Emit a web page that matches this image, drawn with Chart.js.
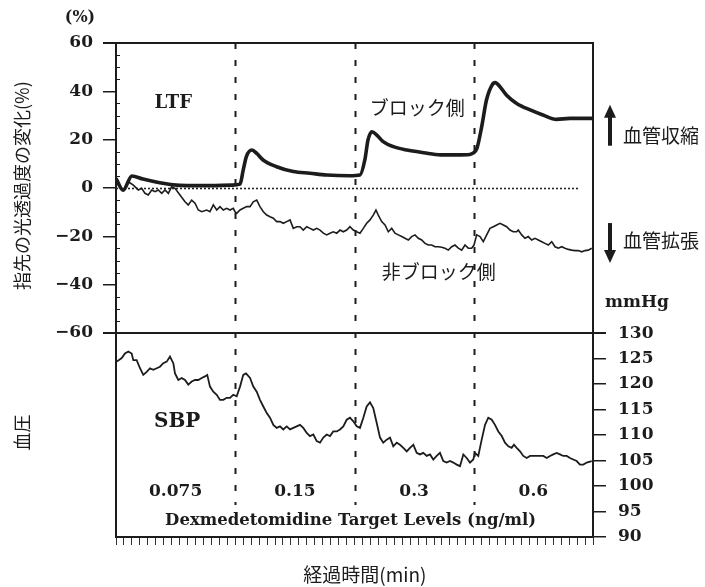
<!DOCTYPE html>
<html><head><meta charset="utf-8">
<script src="https://cdn.jsdelivr.net/npm/chart.js@4/dist/chart.umd.min.js"></script>
<style>html,body{margin:0;padding:0;background:#fff;}#c{display:block}</style>
</head><body>
<canvas id="c" width="705" height="587"></canvas>
<script>
// ---- Data (time in minutes) ----
const ltfTime  = [0,0.9,2.0,3.4,5.5,7.6,9.5,11.8,14.6,15.6,16.0,16.4,17.1,17.7,18.5,20.2,22.3,24.4,26.5,29.4,30.7,31.3,31.7,32.2,32.8,33.6,34.9,36.6,38.7,40.8,42.9,44.5,44.9,45.4,46.0,46.6,47.3,47.7,48.3,49.1,50.4,52.1,53.7,55.4,57.1,60.0];
const ltfValue = [4.0,-0.9,5.0,3.7,2.2,1.2,1.0,1.0,1.2,1.6,7.4,13.0,15.7,14.3,11.6,8.8,6.8,6.1,5.4,5.1,5.4,11.6,19.9,23.3,21.9,19.2,17.1,15.7,14.6,13.7,13.7,13.9,14.4,16.4,25.4,36.4,42.6,43.6,41.9,38.5,35.0,32.3,30.2,28.4,28.8,28.8];

const nbTime  = [0,0.29,0.92,1.55,2.18,2.81,3.23,3.65,4.06,4.49,4.91,5.32,5.75,6.16,6.58,7.01,7.42,8.05,8.68,9.09,9.52,9.94,10.35,10.78,11.41,11.82,12.24,12.67,13.08,13.5,13.92,14.34,14.75,14.97,15.18,15.6,16.01,16.44,16.86,17.27,17.7,18.11,18.53,18.96,19.37,19.79,20.21,20.63,21.04,21.47,21.89,22.3,22.73,23.14,23.56,23.99,24.4,24.82,25.25,25.66,26.08,26.5,26.92,27.33,27.76,28.18,28.59,29.02,29.43,29.85,30.28,30.69,31.11,31.53,31.95,32.36,32.7,32.99,33.42,33.84,34.25,34.68,35.09,35.51,35.94,36.35,36.77,37.19,37.61,38.03,38.45,38.87,39.28,39.71,40.13,40.54,40.97,41.38,41.8,42.23,42.64,43.06,43.48,43.9,44.31,44.74,45.03,45.37,45.79,46.2,46.63,47.04,47.46,47.89,48.3,48.72,49.14,49.56,49.97,50.4,50.6,51.03,51.45,51.86,52.29,52.7,53.12,53.55,53.96,54.38,54.81,55.22,55.64,56.06,56.48,56.89,57.32,57.74,58.15,58.58,58.99,59.41,59.84];
const nbValue = [4.0,1.2,-0.8,2.6,1.2,-0.8,-0.1,-2.2,-2.9,-0.8,-1.5,-0.8,-2.2,-0.8,-2.2,0.6,-0.1,-2.9,-5.7,-7.0,-5.0,-6.3,-9.1,-9.8,-9.1,-9.8,-7.0,-9.1,-7.7,-9.1,-8.4,-9.1,-8.4,-9.8,-10.5,-9.1,-8.4,-7.7,-7.7,-5.7,-5.0,-7.7,-9.8,-11.2,-11.9,-12.5,-13.9,-13.9,-14.6,-13.9,-13.2,-16.7,-16.0,-16.0,-17.4,-16.0,-16.7,-17.4,-16.7,-17.4,-18.7,-19.4,-18.7,-18.1,-18.7,-17.4,-18.1,-17.4,-16.0,-17.4,-18.1,-18.7,-16.7,-14.6,-13.2,-11.2,-9.1,-11.2,-13.9,-15.3,-18.1,-16.7,-18.7,-19.4,-20.1,-20.8,-21.5,-20.1,-19.4,-20.8,-21.5,-22.9,-23.6,-23.6,-24.3,-24.3,-24.5,-24.9,-25.7,-24.3,-23.6,-24.9,-25.7,-23.6,-24.9,-24.9,-23.6,-19.4,-20.1,-22.2,-19.4,-16.7,-16.0,-15.3,-14.6,-15.3,-16.0,-17.4,-18.1,-18.1,-17.4,-19.4,-20.8,-20.1,-21.5,-20.8,-21.5,-22.2,-22.9,-23.6,-22.2,-24.3,-24.9,-24.3,-24.9,-25.4,-25.7,-25.9,-25.9,-26.4,-25.9,-25.7,-24.9];

const sbpTime  = [0.09,0.72,1.13,1.55,1.97,2.18,2.6,3.02,3.43,3.86,4.28,4.69,5.12,5.53,5.95,6.38,6.79,7.21,7.42,7.84,8.26,8.68,9.09,9.52,9.94,10.35,10.78,11.19,11.48,11.82,12.24,12.67,13.08,13.5,13.92,14.34,14.75,15.18,15.6,16.01,16.35,16.86,17.27,17.7,18.11,18.53,18.96,19.37,19.79,20.21,20.63,21.04,21.47,21.89,22.3,22.73,23.14,23.56,23.99,24.4,24.82,25.25,25.66,26.08,26.5,26.92,27.33,27.76,28.18,28.59,29.02,29.43,29.85,30.28,30.69,31.11,31.53,31.95,32.36,32.79,33.21,33.62,34.05,34.47,34.88,35.31,35.72,36.14,36.57,36.98,37.4,37.82,38.24,38.65,39.08,39.5,39.91,40.34,40.75,41.17,41.6,42.01,42.43,42.86,43.27,43.69,44.11,44.53,44.94,45.16,45.57,46.0,46.42,46.83,47.26,47.67,48.09,48.52,48.93,49.35,49.77,50.06,50.4,50.82,51.23,51.66,52.08,52.49,52.92,53.33,53.75,54.18,54.59,55.01,55.43,55.85,56.26,56.69,57.11,57.52,57.95,58.36,58.78,59.21,59.84];
const sbpValue = [124.4,125.1,126.0,126.4,126.0,124.7,124.7,123.1,121.8,122.4,123.1,122.8,123.1,123.4,124.1,124.4,125.4,124.1,122.1,120.8,121.2,120.8,119.9,120.5,120.8,120.8,121.2,121.5,121.8,119.5,118.5,117.9,116.9,116.9,117.3,117.3,117.9,117.6,119.5,121.8,122.1,121.2,119.5,118.5,116.9,115.6,114.3,113.4,112.0,111.4,111.7,111.1,111.7,111.1,111.4,111.7,112.0,111.4,110.4,109.8,110.1,108.8,108.5,109.5,110.1,109.8,110.7,110.7,111.1,111.7,113.0,113.4,112.7,111.7,111.4,113.4,115.6,116.4,115.3,112.4,109.5,108.5,109.1,109.5,107.8,108.5,108.1,107.5,106.8,107.5,108.1,106.5,106.2,106.5,105.9,106.2,105.2,105.9,106.5,104.9,104.6,104.9,104.6,104.2,103.9,106.2,105.5,104.6,105.2,106.5,105.9,109.1,112.0,113.4,113.0,112.0,110.7,109.8,108.5,107.8,107.5,108.1,107.5,106.8,105.9,105.5,105.9,105.9,105.9,105.9,105.9,105.5,105.9,106.2,106.5,106.2,105.9,105.9,105.5,105.2,104.9,104.2,104.2,104.6,104.9];

const doseChangeTimes = [15, 30, 45];
const doseLabels = ['0.075', '0.15', '0.3', '0.6'];
const doseLabelTimes = [7.5, 22.5, 37.5, 52.5];
const leftTicks = [-60, -40, -20, 0, 20, 40, 60];
const rightTicks = [90, 95, 100, 105, 110, 115, 120, 125, 130];
const baselineSpan = [0, 58.3];

const pts = (t, v) => t.map((x, i) => ({ x, y: v[i] }));
const INK = '#1c1c1c';
const SERIF = "'DejaVu Serif', serif";
const JP = "'Noto Sans CJK JP', sans-serif";

const deco = {
  id: 'deco',
  beforeDatasetsDraw(chart) {
    const { ctx, scales: { x, y1, y2 } } = chart;
    ctx.save();
    ctx.strokeStyle = INK;
    ctx.lineWidth = 2;
    ctx.setLineDash([6, 11]);
    doseChangeTimes.forEach(t => {
      const px = Math.round(x.getPixelForValue(t)) + 0.5;
      ctx.beginPath();
      ctx.moveTo(px, y1.getPixelForValue(60));
      ctx.lineTo(px, y2.getPixelForValue(96.3));
      ctx.stroke();
    });
    ctx.setLineDash([2, 2]);
    ctx.lineWidth = 1.6;
    ctx.strokeStyle = '#222';
    const y0 = Math.round(y1.getPixelForValue(0)) + 0.5;
    ctx.beginPath();
    ctx.moveTo(x.getPixelForValue(baselineSpan[0]), y0);
    ctx.lineTo(x.getPixelForValue(baselineSpan[1]), y0);
    ctx.stroke();
    ctx.restore();
  },
  afterDraw(chart) {
    const { ctx, chartArea: a, scales: { x, y1, y2 } } = chart;
    ctx.save();
    ctx.strokeStyle = INK;
    ctx.fillStyle = INK;
    ctx.lineWidth = 2;
    const yt = y1.getPixelForValue(60);
    ctx.beginPath(); ctx.moveTo(a.left - 13, yt); ctx.lineTo(a.right, yt); ctx.stroke();
    const yd = y1.getPixelForValue(-60);
    ctx.beginPath(); ctx.moveTo(a.left - 13, yd); ctx.lineTo(a.right + 13, yd); ctx.stroke();
    ctx.lineWidth = 1;
    for (let v = -55; v < 60; v += 5) {
      if (v % 20 === 0) continue;
      const py = Math.round(y1.getPixelForValue(v)) + 0.5;
      ctx.beginPath(); ctx.moveTo(a.left, py); ctx.lineTo(a.left + 4, py); ctx.stroke();
    }
    const txt = (s, px, py, font, align = 'center', base = 'middle') => {
      ctx.font = font; ctx.textAlign = align; ctx.textBaseline = base; ctx.fillText(s, px, py);
    };
    const vtxt = (s, px, py, font) => {
      ctx.save(); ctx.translate(px, py); ctx.rotate(-Math.PI / 2);
      txt(s, 0, 0, font); ctx.restore();
    };
    txt('(%)', 80, 18, 'bold 16px ' + SERIF);
    vtxt('指先の光透過度の変化(%)', 22, y1.getPixelForValue(1), '18px ' + JP);
    vtxt('血圧', 22, y2.getPixelForValue(110.5), '18px ' + JP);
    txt('mmHg', a.right + 12, y1.getPixelForValue(-47.5), 'bold 17px ' + SERIF, 'left');
    txt('経過時間(min)', x.getPixelForValue(31.3), 575, '19px ' + JP);
    txt('LTF', x.getPixelForValue(7.2), y1.getPixelForValue(35.2), 'bold 18px ' + SERIF);
    txt('ブロック側', x.getPixelForValue(37.9), y1.getPixelForValue(33.1), '19px ' + JP);
    txt('非ブロック側', x.getPixelForValue(40.6), y1.getPixelForValue(-34.8), '19px ' + JP);
    txt('SBP', x.getPixelForValue(7.7), y2.getPixelForValue(112.6), 'bold 20px ' + SERIF);
    doseLabels.forEach((s, i) => txt(s, x.getPixelForValue(doseLabelTimes[i]), y2.getPixelForValue(98.9), 'bold 17px ' + SERIF));
    txt('Dexmedetomidine Target Levels (ng/ml)', x.getPixelForValue(29.5), y2.getPixelForValue(93.2), 'bold 16.5px ' + SERIF);
    const ax = a.right + 17;
    const arrow = (yFrom, yTo) => {
      const dir = Math.sign(yTo - yFrom);
      ctx.lineWidth = 4; ctx.setLineDash([]);
      ctx.beginPath(); ctx.moveTo(ax, yFrom); ctx.lineTo(ax, yTo - dir * 12); ctx.stroke();
      ctx.beginPath(); ctx.moveTo(ax - 6, yTo - dir * 13); ctx.lineTo(ax + 6, yTo - dir * 13); ctx.lineTo(ax, yTo); ctx.closePath(); ctx.fill();
    };
    arrow(y1.getPixelForValue(17.5), y1.getPixelForValue(34.5));
    arrow(y1.getPixelForValue(-14.5), y1.getPixelForValue(-31));
    txt('血管収縮', a.right + 30, y1.getPixelForValue(21.5), '19px ' + JP, 'left');
    txt('血管拡張', a.right + 30, y1.getPixelForValue(-22), '19px ' + JP, 'left');
    ctx.restore();
  }
};

new Chart(document.getElementById('c'), {
  type: 'line',
  data: {
    datasets: [
      { label: 'ブロック側', data: pts(ltfTime, ltfValue), yAxisID: 'y1', borderColor: INK, borderWidth: 3.6, pointRadius: 0, cubicInterpolationMode: 'monotone', fill: false },
      { label: '非ブロック側', data: pts(nbTime, nbValue), yAxisID: 'y1', borderColor: INK, borderWidth: 1.6, pointRadius: 0, tension: 0, fill: false },
      { label: 'SBP', data: pts(sbpTime, sbpValue), yAxisID: 'y2', borderColor: INK, borderWidth: 1.8, pointRadius: 0, tension: 0, fill: false }
    ]
  },
  options: {
    responsive: false,
    animation: false,
    devicePixelRatio: 1,
    layout: { padding: { top: 43, left: 0, right: 0, bottom: 0 } },
    plugins: { legend: { display: false }, tooltip: { enabled: false } },
    scales: {
      x: {
        type: 'linear', min: 0, max: 60,
        ticks: { stepSize: 1, autoSkip: false, maxRotation: 0, callback: () => '' },
        grid: { drawOnChartArea: false, drawTicks: true, tickLength: 8, color: '#333', lineWidth: 1 },
        border: { display: true, color: INK, width: 2 },
        afterFit: s => { s.height = 50; }
      },
      y1: {
        type: 'linear', position: 'left', min: -144.4, max: 60,
        afterBuildTicks: s => { s.ticks = leftTicks.map(v => ({ value: v })); },
        ticks: { color: INK, font: { family: SERIF, weight: 'bold', size: 17 }, padding: 10,
                 callback: v => (v < 0 ? '\u2212' + Math.abs(v) : String(v)) },
        grid: { drawOnChartArea: false, drawTicks: true, tickLength: 13, color: INK, lineWidth: 1.5 },
        border: { display: true, color: INK, width: 2 },
        afterFit: s => { s.width = 116; }
      },
      y2: {
        type: 'linear', position: 'right', min: 90, max: 186.9,
        afterBuildTicks: s => { s.ticks = rightTicks.map(v => ({ value: v })); },
        ticks: { color: INK, font: { family: SERIF, weight: 'bold', size: 17 }, padding: 12 },
        grid: { drawOnChartArea: false, drawTicks: true, tickLength: 13, color: INK, lineWidth: 1.5 },
        border: { display: true, color: INK, width: 2 },
        afterFit: s => { s.width = 112; }
      }
    }
  },
  plugins: [deco]
});
</script>
</body></html>
